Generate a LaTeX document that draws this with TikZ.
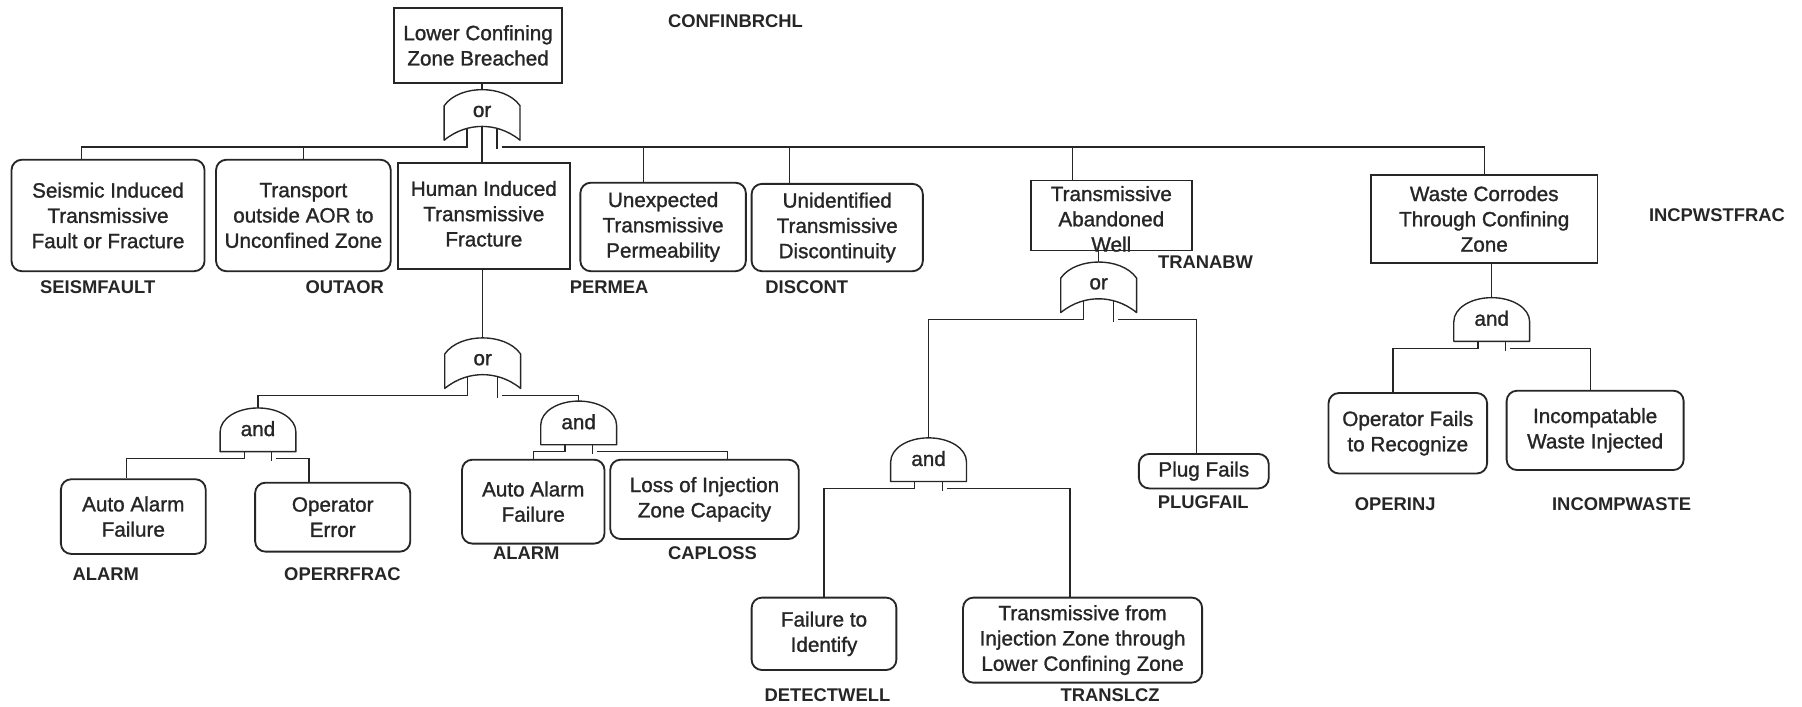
\documentclass[tikz,border=0pt]{standalone}
\usepackage{fontspec}
\setmainfont{Liberation Sans}
\newfontfamily\boxfont{Liberation Sans}[FakeBold=1.2]
\usetikzlibrary{calc}
\definecolor{ink}{HTML}{262626}

% event box: style, name, x1, y1, x2, y2, text, text offset (down)
\newcommand\evbox[8]{%
  \node[#1, minimum width={#5-#3}, minimum height={#6-#4}] (#2) at ({(#3+#5)/2},{(#4+#6)/2}) {};
  \node[boxtext] (#2-t) at ($(#2)+(0,#8)$) {#7};}

\begin{document}
\begin{tikzpicture}[x=1pt,y=-1pt,
  sqbox/.style={draw=ink, line width=1.6pt, inner sep=0pt},
  rdbox/.style={sqbox, rounded corners=9pt},
  boxtext/.style={align=center, text=ink, inner sep=0pt, font=\boxfont\fontsize{18}{22}\selectfont},
  code/.style={text=ink, inner sep=0pt, font=\fontsize{16}{19}\selectfont\bfseries},
  gatept/.style={inner sep=0pt, minimum size=0pt},
  gatetxt/.style={text=ink, inner sep=0pt, font=\boxfont\fontsize{18}{21}\selectfont},
  gateline/.style={draw=ink, line width=1.2pt, line join=round},
  wire/.style={draw=ink, line width=1.2pt},
]
\useasboundingbox[fill=white] (0,0) rectangle (1568,615);

% ---------- events ----------
\evbox{sqbox}{top}{343}{7}{489}{72}{Lower Confining\\Zone Breached}{0}
\evbox{rdbox}{seis}{10}{139}{178}{236}{Seismic Induced\\Transmissive\\Fault or Fracture}{0}
\evbox{rdbox}{trans}{188}{139}{340}{236}{Transport\\outside AOR to\\Unconfined Zone}{0}
\evbox{sqbox}{human}{346}{142}{496}{234}{Human Induced\\Transmissive\\Fracture}{-2}
\evbox{rdbox}{unexp}{505}{159}{649}{236}{Unexpected\\Transmissive\\Permeability}{0}
\evbox{rdbox}{unid}{654}{160}{803}{236}{Unidentified\\Transmissive\\Discontinuity}{0}
\evbox{sqbox}{tranab}{897}{157}{1037}{218}{Transmissive\\Abandoned\\Well}{3}
\evbox{sqbox}{waste}{1193}{152}{1390}{229}{Waste Corrodes\\Through Confining\\Zone}{0}
\evbox{rdbox}{alarm1}{53}{417}{179}{482}{Auto Alarm\\Failure}{0}
\evbox{rdbox}{oper}{222}{420}{357}{480}{Operator\\Error}{0}
\evbox{rdbox}{alarm2}{402}{400}{526}{473}{Auto Alarm\\Failure}{0}
\evbox{rdbox}{loss}{531}{400}{695}{469}{Loss of Injection\\Zone Capacity}{0}
\evbox{rdbox}{plug}{991}{395}{1104}{425}{Plug Fails}{0}
\evbox{rdbox}{fail}{654}{520}{780}{583}{Failure to\\Identify}{0}
\evbox{rdbox}{tfrom}{838}{520}{1046}{594}{Transmissive from\\Injection Zone through\\Lower Confining Zone}{0}
\evbox{rdbox}{opfail}{1156}{342}{1294}{412}{Operator Fails\\to Recognize}{0}
\evbox{rdbox}{incomp}{1311}{340}{1465}{409}{Incompatable\\Waste Injected}{0}

% ---------- event codes ----------
\node[code] (c-top)    at (640,18)   {CONFINBRCHL};
\node[code] (c-seis)   at (85,250)   {SEISMFAULT};
\node[code] (c-trans)  at (300,250)  {OUTAOR};
\node[code] (c-unexp)  at (530,250)  {PERMEA};
\node[code] (c-unid)   at (702,250)  {DISCONT};
\node[code] (c-tranab) at (1049,228) {TRANABW};
\node[code] (c-waste)  at (1494,187) {INCPWSTFRAC};
\node[code] (c-alarm1) at (92,500)   {ALARM};
\node[code] (c-oper)   at (298,500)  {OPERRFRAC};
\node[code] (c-alarm2) at (458,481)  {ALARM};
\node[code] (c-loss)   at (620,481)  {CAPLOSS};
\node[code] (c-plug)   at (1047,437) {PLUGFAIL};
\node[code] (c-fail)   at (720,605)  {DETECTWELL};
\node[code] (c-tfrom)  at (966,605)  {TRANSLCZ};
\node[code] (c-opfail) at (1214,439) {OPERINJ};
\node[code] (c-incomp) at (1411,439) {INCOMPWASTE};

% ---------- gates ----------
\node[gatept] (g1) at (419.5,100) {};
\node[gatept] (g2) at (420,316) {};
\node[gatept] (g5) at (956,250) {};
\node[gatept] (g3) at (224.5,374) {};
\node[gatept] (g4) at (503.5,368) {};
\node[gatept] (g6) at (808,400) {};
\node[gatept] (g7) at (1298,278) {};

% OR gates: outline, label and ports
\foreach \g in {g1,g2,g5}{
  \begin{scope}[shift={(\g)}]
    \draw[gateline] (-33,22) -- (-33,-8)
      .. controls (-26,-18) and (-12,-22) .. (0,-22)
      .. controls (12,-22) and (26,-18) .. (33,-8)
      -- (33,22)
      .. controls (22,13) and (10,10) .. (0,10)
      .. controls (-10,10) and (-22,13) .. (-33,22) -- cycle;
  \end{scope}
  \node[gatetxt] (\g-t) at ($(\g)+(0,-3)$) {or};
  \coordinate (\g-top) at ($(\g)+(0,-22)$);
  \coordinate (\g-c)   at ($(\g)+(0,10)$);
  \coordinate (\g-ls)  at ($(\g)+(-13,11)$);
  \coordinate (\g-l)   at ($(\g)+(-13,28)$);
  \coordinate (\g-rs)  at ($(\g)+(13,11)$);
  \coordinate (\g-rb)  at ($(\g)+(13,30)$);
  \coordinate (\g-r)   at ($(\g)+(17,28)$);
}
% AND gates: outline, label and ports
\foreach \g in {g3,g4,g6,g7}{
  \begin{scope}[shift={(\g)}]
    \draw[gateline] (-33,19) -- (-33,2)
      .. controls (-33,-10) and (-18,-19) .. (0,-19)
      .. controls (18,-19) and (33,-10) .. (33,2)
      -- (33,19) -- cycle;
  \end{scope}
  \node[gatetxt] (\g-t) at ($(\g)+(0,-1)$) {and};
  \coordinate (\g-top) at ($(\g)+(0,-19)$);
  \coordinate (\g-ls)  at ($(\g)+(-12,19)$);
  \coordinate (\g-l)   at ($(\g)+(-12,25)$);
  \coordinate (\g-rs)  at ($(\g)+(12,19)$);
  \coordinate (\g-rb)  at ($(\g)+(12,27)$);
  \coordinate (\g-r)   at ($(\g)+(16,25)$);
}

% drop points on events where the branch does not meet the middle
\coordinate (d-seis)   at ([xshift=-23pt]seis.north);
\coordinate (d-unexp)  at ([xshift=-17pt]unexp.north);
\coordinate (d-unid)   at ([xshift=-41.5pt]unid.north);
\coordinate (d-tranab) at ([xshift=-34pt]tranab.north);
\coordinate (d-alarm1) at ([xshift=-6pt]alarm1.north);
\coordinate (d-oper)   at ([xshift=-20.5pt]oper.north);
\coordinate (d-loss)   at ([xshift=20pt]loss.north);
\coordinate (d-plug)   at ([xshift=-6.5pt]plug.north);
\coordinate (d-tfrom)  at ([xshift=-11pt]tfrom.north);
\coordinate (d-opfail) at ([xshift=-13pt]opfail.north);
\coordinate (d-incomp) at ([xshift=-4pt]incomp.north);

% ---------- connectors ----------
% top event
\draw[wire] (g1-top) -- (g1-top |- top.south);
\draw[wire] (g1-ls) -- (g1-l) -| (d-seis);
\draw[wire] (trans.north) -- (trans.north |- g1-l);
\draw[wire] (g1-c) -- (g1-c |- human.north);
\draw[wire] (g1-rs) -- (g1-rb);
\draw[wire] (g1-r) -| (waste.north);
\draw[wire] (d-unexp) -- (d-unexp |- g1-r);
\draw[wire] (d-unid) -- (d-unid |- g1-r);
\draw[wire] (d-tranab) -- (d-tranab |- g1-r);

% human induced fracture
\draw[wire] (g2-top) -- (g2-top |- human.south);
\draw[wire] (g2-ls) -- (g2-l) -| (g3-top);
\draw[wire] (g2-rs) -- (g2-rb);
\draw[wire] (g2-r) -| (g4-top);
\draw[wire] (g3-ls) -- (g3-l) -| (d-alarm1);
\draw[wire] (g3-rs) -- (g3-rb);
\draw[wire] (g3-r) -| (d-oper);
\draw[wire] (g4-ls) -- (g4-l) -| (alarm2.north);
\draw[wire] (g4-rs) -- (g4-rb);
\draw[wire] (g4-r) -| (d-loss);

% abandoned well
\draw[wire] (g5-top) -- (g5-top |- tranab.south);
\draw[wire] (g5-ls) -- (g5-l) -| (g6-top);
\draw[wire] (g5-rs) -- (g5-rb);
\draw[wire] (g5-r) -| (d-plug);
\draw[wire] (g6-ls) -- (g6-l) -| (fail.north);
\draw[wire] (g6-rs) -- (g6-rb);
\draw[wire] (g6-r) -| (d-tfrom);

% waste corrosion
\draw[wire] (g7-top) -- (g7-top |- waste.south);
\draw[wire] (g7-ls) -- (g7-l) -| (d-opfail);
\draw[wire] (g7-rs) -- (g7-rb);
\draw[wire] (g7-r) -| (d-incomp);
\end{tikzpicture}
\end{document}
